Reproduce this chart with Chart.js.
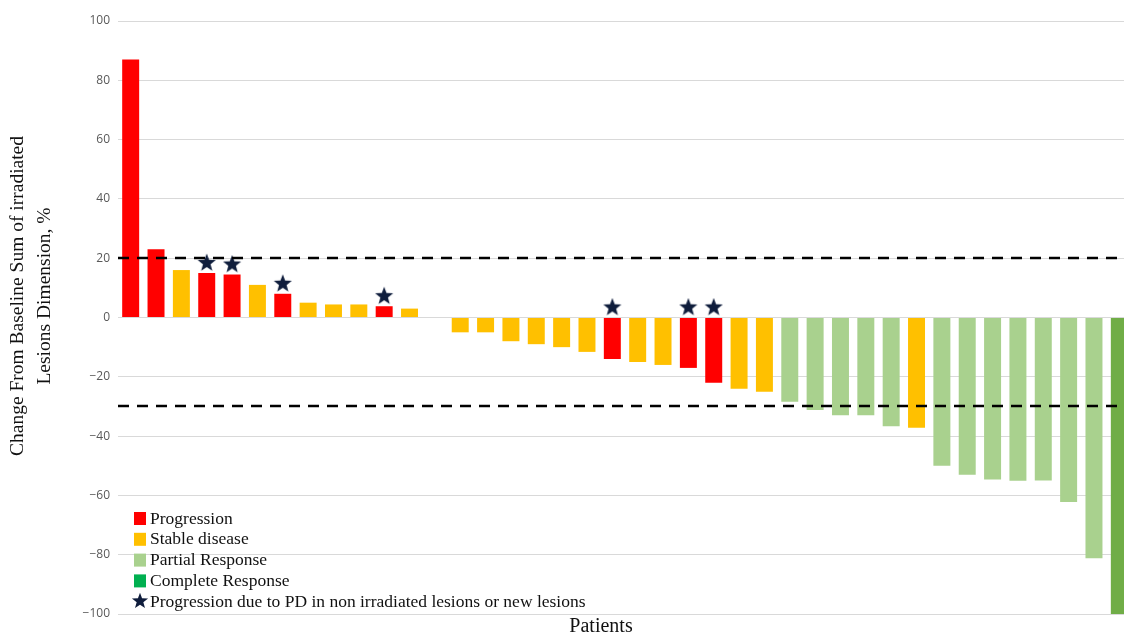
<!DOCTYPE html>
<html>
<head>
<meta charset="utf-8">
<script src="https://cdn.jsdelivr.net/npm/chart.js@4"></script>
<style>
  html, body { margin: 0; padding: 0; background: #fff; overflow: hidden; }
  canvas { display: block; }
</style>
</head>
<body>
<canvas id="waterfall" width="1132" height="635"></canvas>
<script>
// % change from baseline, one bar per patient (sorted)
const changePct = [87, 23, 16, 15, 14.5, 11, 8, 5, 4.4, 4.4, 3.8, 3, 0,
    -5, -5, -8, -9, -10, -11.6, -14, -15, -16, -17, -22, -24, -25,
    -28.4, -31.2, -33, -33, -36.7, -37.2, -50, -53, -54.6, -55.1, -55, -62.2, -81.2, -100];
// P = progression, S = stable, PR = partial, CR = complete
const response = ['P', 'P', 'S', 'P', 'P', 'S', 'P', 'S', 'S', 'S', 'P', 'S', 'S',
    'S', 'S', 'S', 'S', 'S', 'S', 'P', 'S', 'S', 'P', 'P', 'S', 'S',
    'PR', 'PR', 'PR', 'PR', 'PR', 'S', 'PR', 'PR', 'PR', 'PR', 'PR', 'PR', 'PR', 'CR'];
const starPatients = [4, 5, 7, 11, 20, 23, 24]; // PD in non irradiated / new lesions
const thresholds = [20, -30];
const yTicks = [100, 80, 60, 40, 20, 0, -20, -40, -60, -80, -100];
const yTitle = ['Change From Baseline Sum of irradiated', 'Lesions Dimension, %'];
const xTitle = 'Patients';

const patients = changePct.map((_, i) => 'Patient ' + (i + 1));

const barColors = { P: '#FF0000', S: '#FFC000', PR: '#A9D18E', CR: '#70AD47' };
const legendItems = [
    { text: 'Progression', color: '#FF0000' },
    { text: 'Stable disease', color: '#FFC000' },
    { text: 'Partial Response', color: '#A9D18E' },
    { text: 'Complete Response', color: '#00B050' },
    { text: 'Progression due to PD in non irradiated lesions or new lesions', star: true }
];
const starColor = '#0F1D3C';
const serif = '"Liberation Serif", "Times New Roman", serif';

function drawStar(c, cx, cy, R, r) {
    c.beginPath();
    for (let k = 0; k < 10; k++) {
        const rad = k % 2 === 0 ? R : r;
        const a = -Math.PI / 2 + k * Math.PI / 5;
        c.lineTo(cx + rad * Math.cos(a), cy + rad * Math.sin(a));
    }
    c.closePath();
    c.fill();
}

// star image, drawn ~10px above its anchor point
const starImg = document.createElement('canvas');
starImg.width = 20;
starImg.height = 40;
const sctx = starImg.getContext('2d');
sctx.fillStyle = starColor;
drawStar(sctx, 10, 10, 9.5, 4);

const starData = changePct.map((v, i) => starPatients.includes(i + 1) ? Math.max(v, 0) : null);

const extras = {
    id: 'extras',
    afterDatasetsDraw(chart) {
        const c = chart.ctx;
        const area = chart.chartArea;
        const y = chart.scales.y;
        // dashed threshold lines
        c.save();
        c.strokeStyle = '#000';
        c.lineWidth = 2.5;
        c.setLineDash([11, 8]);
        thresholds.forEach(t => {
            const py = Math.round(y.getPixelForValue(t));
            c.beginPath();
            c.moveTo(area.left, py);
            c.lineTo(area.right, py);
            c.stroke();
        });
        c.restore();

        // legend in lower-left of plot
        c.save();
        c.font = '17.5px ' + serif;
        c.textBaseline = 'middle';
        const x0 = area.left + 16;
        let yy = area.bottom - 96;
        legendItems.forEach(it => {
            if (it.star) {
                c.fillStyle = starColor;
                drawStar(c, x0 + 6, yy, 8.5, 3.5);
            } else {
                c.fillStyle = it.color;
                c.fillRect(x0, yy - 6, 12, 13);
            }
            c.fillStyle = '#111';
            c.fillText(it.text, x0 + 16, yy + 1);
            yy += 20.8;
        });

        // axis titles
        c.fillStyle = '#111';
        c.textAlign = 'center';
        c.textBaseline = 'middle';
        c.font = '20px ' + serif;
        c.fillText(xTitle, 601, area.bottom + 13);
        c.font = '19.5px ' + serif;
        c.translate(0, 296);
        c.rotate(-Math.PI / 2);
        c.fillText(yTitle[0], 0, 18);
        c.fillText(yTitle[1], 0, 45);
        c.restore();
    }
};

const ctx = document.getElementById('waterfall').getContext('2d');
new Chart(ctx, {
    data: {
        labels: patients,
        datasets: [{
            type: 'line',
            data: starData,
            showLine: false,
            pointStyle: starImg,
            pointRadius: 10,
            order: 0
        }, {
            type: 'bar',
            data: changePct,
            backgroundColor: response.map(r => barColors[r]),
            borderWidth: 0,
            categoryPercentage: 1,
            barPercentage: 0.67,
            order: 1
        }]
    },
    options: {
        responsive: false,
        animation: false,
        layout: { autoPadding: false, padding: { top: 21, right: 0, left: 0, bottom: 0 } },
        plugins: {
            legend: { display: false },
            tooltip: { enabled: false }
        },
        scales: {
            x: {
                offset: true,
                afterFit(scale) { scale.height = 21; },
                grid: { display: false },
                border: { display: false },
                ticks: { display: false }
            },
            y: {
                min: -100,
                max: 100,
                afterFit(scale) { scale.width = 118; },
                afterBuildTicks(scale) { scale.ticks = yTicks.map(v => ({ value: v })); },
                grid: { color: '#D9D9D9', lineWidth: 1, drawTicks: false },
                border: { display: false },
                ticks: {
                    padding: 8,
                    color: '#595959',
                    font: { family: '"Open Sans", sans-serif', size: 12 },
                    callback: v => v < 0 ? '\u2212' + Math.abs(v) : String(v)
                }
            }
        }
    },
    plugins: [extras]
});
</script>
</body>
</html>
